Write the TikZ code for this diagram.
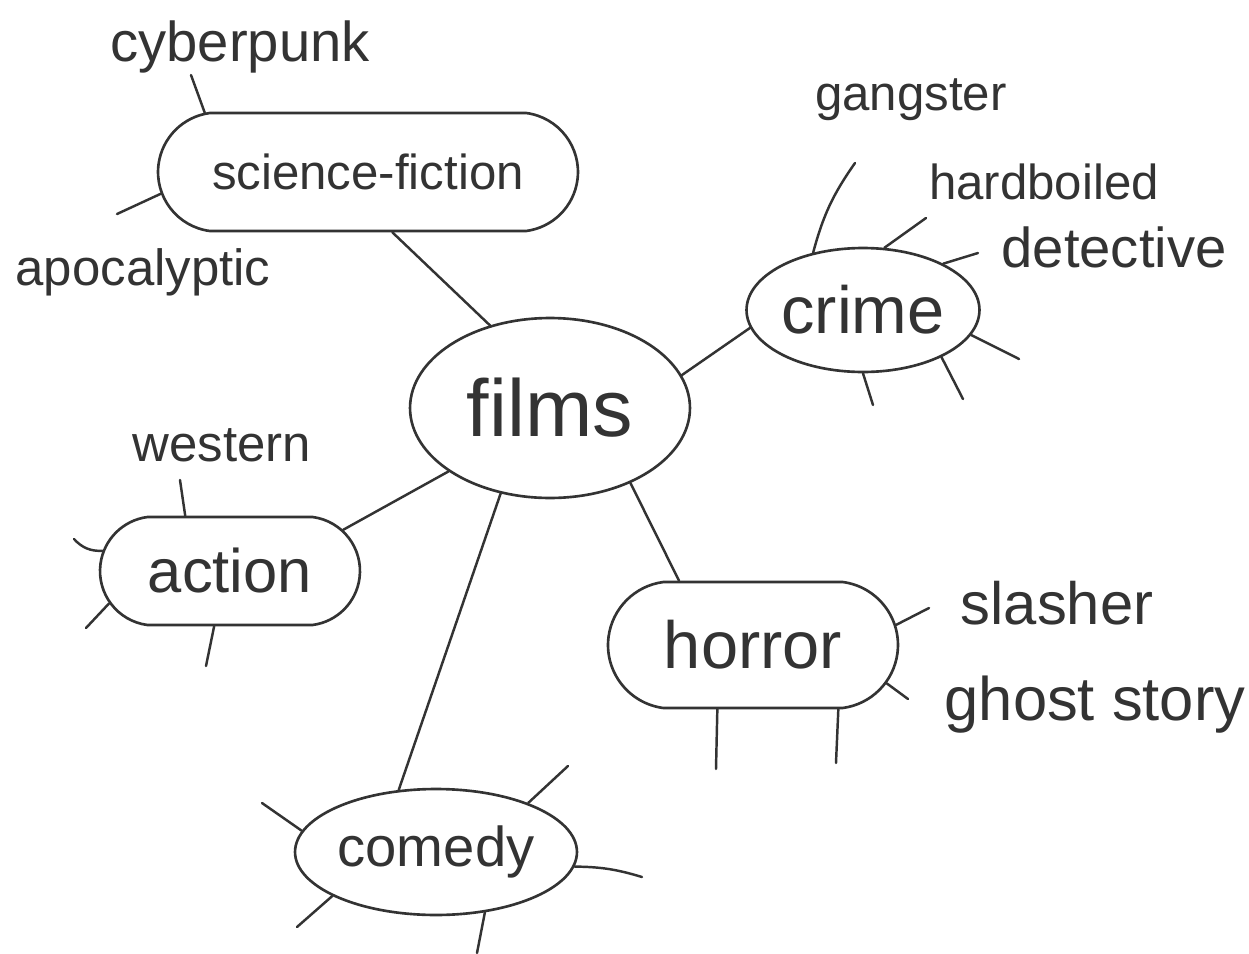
\documentclass[tikz,border=0pt]{standalone}
\usepackage{fontspec}
\setmainfont{Liberation Sans}
\usetikzlibrary{shapes.geometric,shapes.misc}

\begin{document}
\begin{tikzpicture}[x=0.02cm,y=-0.02cm,
    blob/.style={draw=black!80, text=black!80, line width=1.5pt, inner sep=0pt, font=\fontsize{#1pt}{#1pt}\selectfont},
    oval/.style={ellipse},
    pill/.style={rounded rectangle, rounded rectangle arc length=165},
    leaf/.style={inner sep=0pt, text=black!80, font=\fontsize{#1pt}{#1pt}\selectfont},
    twig/.style={draw=black!80, line width=1.4pt, line cap=round}]

  \useasboundingbox[fill=white] (0,0) rectangle (1249,954);

  % main topics
  \node[blob=46, oval, minimum width=5.6cm, minimum height=3.6cm] (films) at (550,408) {films};
  \node[blob=28, pill, minimum width=8.4cm, minimum height=2.36cm] (scifi) at (368,172) {science-fiction};
  \node[blob=38, oval, minimum width=4.66cm, minimum height=2.48cm] (crime) at (863,310) {crime};
  \node[blob=35, pill, minimum width=5.2cm, minimum height=2.16cm] (action) at (230,571) {action};
  \node[blob=38, pill, minimum width=5.8cm, minimum height=2.52cm] (horror) at (753,645) {horror};
  \node[blob=32, oval, minimum width=5.64cm, minimum height=2.52cm] (comedy) at (436,852) {comedy};

  % sub topics
  \node[leaf=32] (cyberpunk) at (240,47) {cyberpunk};
  \node[leaf=29] (apocalyptic) at (143,272) {apocalyptic};
  \node[leaf=28] (gangster) at (911,100) {gangster};
  \node[leaf=28] (hardboiled) at (1044,182) {hardboiled};
  \node[leaf=32] (detective) at (1114,247) {detective};
  \node[leaf=29] (western) at (222,445) {western};
  \node[leaf=34] (slasher) at (1057,603) {slasher};
  \node[leaf=35] (ghoststory) at (1095,705) {ghost story};

  % links from the centre
  \draw[twig] (films.126) -- (scifi.-68);
  \draw[twig] (films.14) -- (crime.189);
  \draw[twig] (films.212) -- (action.20);
  \draw[twig] (films.-43) -- (horror.139);
  \draw[twig] (films.240) -- (comedy.121);

  % free ends of the twigs
  \foreach \n/\x/\y in {sf1/191/75, sf2/117/214,
      cr1/855/163, cr2/926/218, cr3/978/253, cr4/1019/359, cr5/963/399, cr6/873/405,
      ac1/180/480, ac2/74/539, ac3/86/628, ac4/206/666,
      ho1/929/608, ho2/908/699, ho3/716/769, ho4/836/763,
      co1/262/803, co2/568/766, co3/642/877, co4/297/927, co5/477/953}
    \coordinate (\n) at (\x,\y);

  % twigs
  \foreach \a/\e in {160/sf1, 186/sf2}
    \draw[twig] (scifi.\a) -- (\e);
  \draw[twig] (crime.131) to[bend left=10] (cr1);
  \foreach \a/\e in {71/cr2, 30/cr3, -13/cr4, -31/cr5, -90/cr6}
    \draw[twig] (crime.\a) -- (\e);
  \draw[twig] (action.129) -- (ac1);
  \draw[twig] (action.171) to[bend left=25] (ac2);
  \foreach \a/\e in {195/ac3, 254/ac4}
    \draw[twig] (action.\a) -- (\e);
  \foreach \a/\e in {8/ho1, -16/ho2, 241/ho3, -37/ho4}
    \draw[twig] (horror.\a) -- (\e);
  \foreach \a/\e in {171/co1, 28/co2, 203/co4, -51/co5}
    \draw[twig] (comedy.\a) -- (\e);
  \draw[twig] (comedy.-6) to[bend left=8] (co3);
\end{tikzpicture}
\end{document}
